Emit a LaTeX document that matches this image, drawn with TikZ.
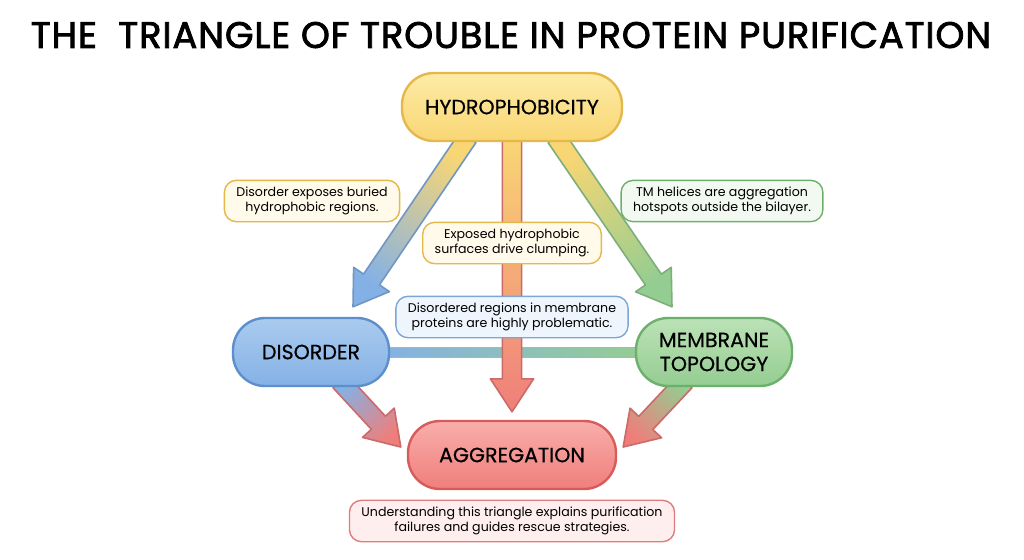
\documentclass[tikz,border=0pt]{standalone}
\usepackage{fontspec}
\setmainfont{Poppins}
\newfontfamily\titlefont[LetterSpace=2.5, FakeBold=2.2]{Poppins}
\newfontfamily\pillfont[FakeBold=0.6]{Poppins}
\usetikzlibrary{calc,backgrounds}

\definecolor{hydtop}{HTML}{FDEBA6}
\definecolor{hydbot}{HTML}{F9D674}
\definecolor{hydline}{HTML}{E5B84C}
\definecolor{distop}{HTML}{AACBEF}
\definecolor{disbot}{HTML}{84B1E5}
\definecolor{disline}{HTML}{5C8FCB}
\definecolor{memtop}{HTML}{BCE2B7}
\definecolor{membot}{HTML}{94CD91}
\definecolor{memline}{HTML}{6DB06B}
\definecolor{aggtop}{HTML}{F9AEAB}
\definecolor{aggbot}{HTML}{EF7E7B}
\definecolor{aggline}{HTML}{D65C5C}

\tikzset{
  pill/.style={rectangle, rounded corners=16pt, line width=1.2pt, minimum height=34pt,
    align=center, font=\fontsize{10.3}{12}\selectfont\pillfont},
  note/.style={rectangle, rounded corners=6pt, line width=0.7pt, align=center,
    inner xsep=6pt, inner ysep=3.2pt, font=\fontsize{6.3}{7.8}\selectfont},
}

% fat shaded arrow: from, to, start colour, end colour
\newcommand\fatarrow[4]{%
  \path let \p1=(#1), \p2=(#2) in
    \pgfextra{\pgfmathsetmacro\arrang{atan2(\y2-\y1,\x2-\x1)-90}\xdef\arrang{\arrang}};
  \coordinate (fa-a) at (#1);
  \coordinate (fa-b) at ($(#2)!16.5pt!(#1)$);
  \shade[shading=axis, bottom color=#3, top color=#4, shading angle=\arrang,
    draw=#4!85!black, line width=0.8pt, line join=round]
    ($(fa-a)!4.8pt!90:(#2)$) -- ($(fa-b)!4.8pt!-90:(#1)$) -- ($(fa-b)!10.8pt!-90:(#1)$)
    -- (#2) -- ($(fa-b)!10.8pt!90:(#1)$) -- ($(fa-b)!4.8pt!90:(#1)$)
    -- ($(fa-a)!4.8pt!-90:(#2)$) -- cycle;
}

\begin{document}
\begin{tikzpicture}[x=0.5pt, y=-0.5pt]
  \useasboundingbox (0,0) rectangle (1024,559);

  \node[font=\fontsize{18.4}{21}\selectfont\titlefont] (title) at (511,35)
    {THE\ \ TRIANGLE OF TROUBLE IN PROTEIN PURIFICATION};

  % main nodes
  \node[pill, minimum width=110pt, top color=hydtop, bottom color=hydbot, draw=hydline]
    (hydro) at (512,107) {HYDROPHOBICITY};
  \node[pill, minimum width=78pt, top color=distop, bottom color=disbot, draw=disline]
    (disorder) at (311,352) {DISORDER};
  \node[pill, minimum width=78pt, top color=memtop, bottom color=membot, draw=memline]
    (membrane) at (714,352) {MEMBRANE\\TOPOLOGY};
  \node[pill, minimum width=104pt, top color=aggtop, bottom color=aggbot, draw=aggline]
    (aggregation) at (512,455) {AGGREGATION};

  % arrows behind the nodes
  \begin{scope}[on background layer]
    \fill[white] (0,0) rectangle (1024,559);
    \shade[left color=disbot, right color=membot, draw=black!30, line width=0.5pt]
      ($(disorder.east)+(-10,-5)$) rectangle ($(membrane.west)+(10,5)$);
    \coordinate (hd-start) at ($(hydro.south)+(-44,-5)$);
    \coordinate (hd-tip) at ($(disorder.north)+(42,-10)$);
    \coordinate (ha-start) at ($(hydro.south)+(0,-5)$);
    \coordinate (ha-tip) at ($(aggregation.north)+(0,-8)$);
    \coordinate (hm-start) at ($(hydro.south)+(44,-5)$);
    \coordinate (hm-tip) at ($(membrane.north)+(-42,-10)$);
    \coordinate (da-start) at ($(disorder.south)+(29,-6)$);
    \coordinate (da-tip) at ($(aggregation.west)+(-6,-8)$);
    \coordinate (ma-start) at ($(membrane.south)+(-29,-6)$);
    \coordinate (ma-tip) at ($(aggregation.east)+(6,-8)$);
    \fatarrow{hd-start}{hd-tip}{hydbot}{disbot}
    \fatarrow{ha-start}{ha-tip}{hydbot}{aggbot}
    \fatarrow{hm-start}{hm-tip}{hydbot}{membot}
    \fatarrow{da-start}{da-tip}{disbot}{aggbot}
    \fatarrow{ma-start}{ma-tip}{membot}{aggbot}
  \end{scope}

  % notes
  \node[note, fill=hydtop!25, draw=hydline] (n-buried) at (312,201)
    {Disorder exposes buried\\hydrophobic regions.};
  \node[note, fill=hydtop!25, draw=hydline] (n-clump) at (512,243)
    {Exposed hydrophobic\\surfaces drive clumping.};
  \node[note, fill=memtop!20, draw=memline] (n-helix) at (722,201)
    {TM helices are aggregation\\hotspots outside the bilayer.};
  \node[note, fill=distop!20, draw=disline!80] (n-membrane) at (512,317)
    {Disordered regions in membrane\\proteins are highly problematic.};
  \node[note, fill=aggtop!20, draw=aggline!80] (n-rescue) at (512,521)
    {Understanding this triangle explains purification\\failures and guides rescue strategies.};
\end{tikzpicture}
\end{document}
